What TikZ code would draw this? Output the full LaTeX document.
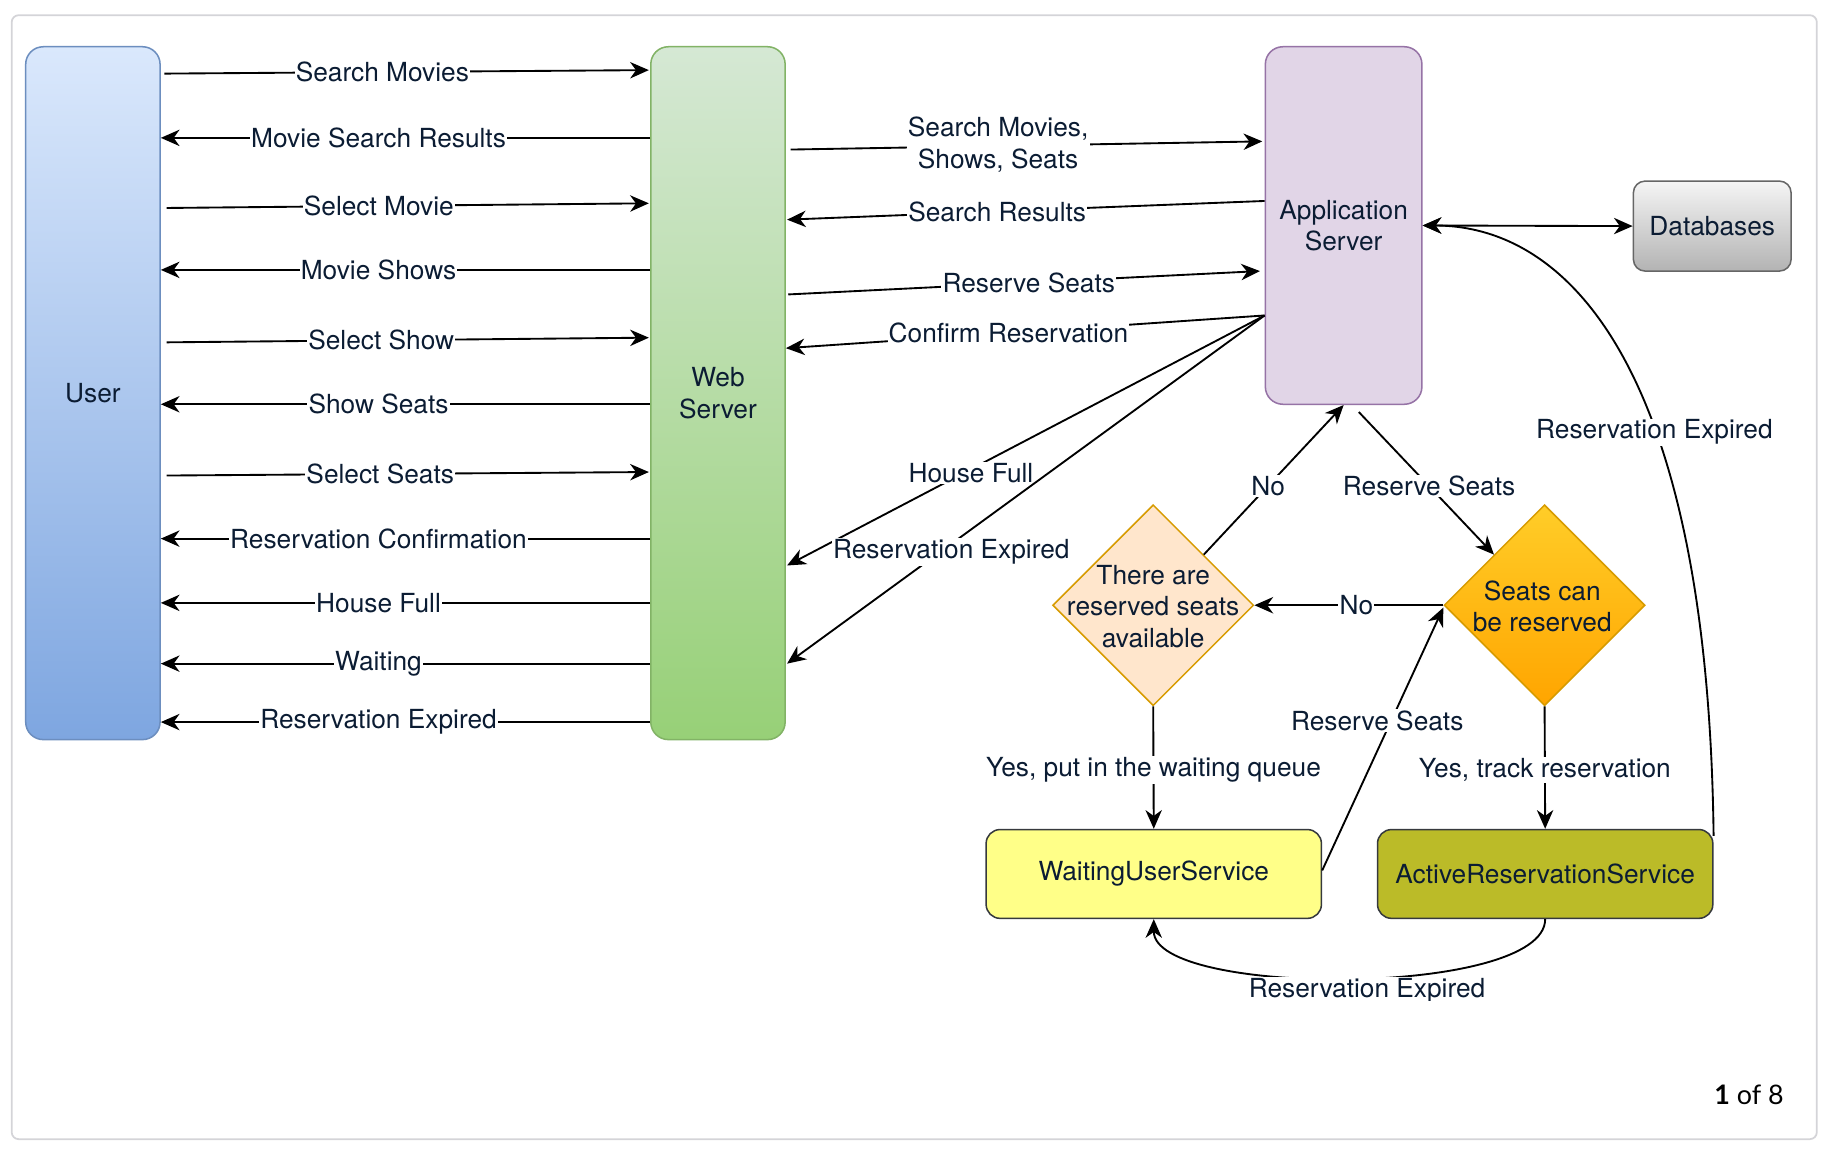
\documentclass[tikz,border=0pt]{standalone}
\usepackage{fontspec}
\setmainfont{TeX Gyre Heros}
\newfontfamily\pagefont{Lato}
\usetikzlibrary{shapes.geometric,arrows.meta,calc}
\definecolor{txt}{HTML}{0B1C33}
\definecolor{utop}{HTML}{DAE8FC}\definecolor{ubot}{HTML}{7EA6E0}\definecolor{ubrd}{HTML}{6C8EBF}
\definecolor{wtop}{HTML}{D5E8D4}\definecolor{wbot}{HTML}{97D077}\definecolor{wbrd}{HTML}{82B366}
\definecolor{afill}{HTML}{E1D5E7}\definecolor{abrd}{HTML}{9673A6}
\definecolor{dtop}{HTML}{F5F5F5}\definecolor{dbot}{HTML}{B3B3B3}\definecolor{dbrd}{HTML}{666666}
\definecolor{onefill}{HTML}{FFE6CC}\definecolor{obrd}{HTML}{D79B00}
\definecolor{twotop}{HTML}{FFCD28}\definecolor{twobot}{HTML}{FFA500}
\definecolor{wusfill}{HTML}{FFFF88}\definecolor{arsfill}{HTML}{BBBB28}\definecolor{sbrd}{HTML}{36393D}
\definecolor{frame}{HTML}{D4D4D8}
\begin{document}
\begin{tikzpicture}[x=1pt,y=-1pt,
  every node/.style={text=txt, font=\fontsize{22.5}{27}\selectfont},
  box/.style={draw, rounded corners=15pt, line width=1.3pt, align=center, inner sep=0pt},
  dia/.style={draw, diamond, aspect=1, line width=1.3pt, inner sep=0pt, minimum width=172pt, minimum height=172pt},
  tip/.style={Stealth[length=16pt,width=14pt,inset=5pt]},
  arr/.style={draw=black, line width=1.6pt, -{Stealth[length=16pt,width=14pt,inset=5pt]}},
  biarr/.style={draw=black, line width=1.6pt, {Stealth[length=16pt,width=14pt,inset=5pt]}-{Stealth[length=16pt,width=14pt,inset=5pt]}},
  lbl/.style={fill=white, inner sep=1pt, align=center},
]
\useasboundingbox (0,0) rectangle (1568,986);
\draw[rounded corners=6pt, draw=frame, line width=1.5pt, fill=white] (10,13) rectangle (1555,975);

% nodes
\node[box, draw=ubrd, top color=utop, bottom color=ubot, minimum width=115pt, minimum height=593pt] (user) at (79.5,336.5) {User};
\node[box, draw=wbrd, top color=wtop, bottom color=wbot, minimum width=115pt, minimum height=593pt] (web) at (614.5,336.5) {Web\\Server};
\node[box, draw=abrd, fill=afill, minimum width=134pt, minimum height=306pt] (app) at (1150,193) {Application\\Server};
\node[box, draw=dbrd, top color=dtop, bottom color=dbot, rounded corners=10pt, minimum width=135pt, minimum height=77pt] (db) at (1465.5,193.5) {Databases};
\node[dia, draw=obrd, fill=onefill] (d1) at (987,518) {};
\node[align=center] (d1t) at (987,519) {There are\\reserved seats\\available};
\node[dia, draw=obrd, top color=twotop, bottom color=twobot] (d2) at (1322,518) {};
\node[align=center] (d2t) at (1320,519) {Seats can\\be reserved};
\node[box, draw=sbrd, fill=wusfill, rounded corners=12pt, minimum width=287pt, minimum height=76pt] (wus) at (987.5,748) {WaitingUserService};
\node[box, draw=sbrd, fill=arsfill, rounded corners=12pt, minimum width=287pt, minimum height=76pt] (ars) at (1322.5,748) {ActiveReservationService};
\node[font=\pagefont\fontsize{23}{27}\selectfont, text=black] (page) at (1497,937) {\textbf{1} of 8};

% user <-> web
\draw[arr] ($(user.east |- 0,63)+(3,0)$) -- node[lbl,pos=0.45]{Search Movies} ($(web.west |- 0,60)+(-1,0)$);
\draw[arr] (web.west |- 0,118) -- node[lbl,pos=0.555]{Movie Search Results} (user.east |- 0,118);
\draw[arr] ($(user.east |- 0,178)+(5,0)$) -- node[lbl,pos=0.44]{Select Movie} ($(web.west |- 0,174)+(-1,0)$);
\draw[arr] (web.west |- 0,231) -- node[lbl,pos=0.555]{Movie Shows} (user.east |- 0,231);
\draw[arr] ($(user.east |- 0,293)+(5,0)$) -- node[lbl,pos=0.445]{Select Show} ($(web.west |- 0,289)+(-1,0)$);
\draw[arr] (web.west |- 0,346) -- node[lbl,pos=0.555]{Show Seats} (user.east |- 0,346);
\draw[arr] ($(user.east |- 0,407)+(5,0)$) -- node[lbl,pos=0.443]{Select Seats} ($(web.west |- 0,404)+(-1,0)$);
\draw[arr] (web.west |- 0,461) -- node[lbl,pos=0.555]{Reservation Confirmation} (user.east |- 0,461);
\draw[arr] (web.west |- 0,516) -- node[lbl,pos=0.555]{House Full} (user.east |- 0,516);
\draw[arr] (web.west |- 0,568) -- node[lbl,pos=0.555]{Waiting} (user.east |- 0,568);
\draw[arr] (web.west |- 0,618) -- node[lbl,pos=0.555]{Reservation Expired} (user.east |- 0,618);

% web <-> app
\draw[arr] ($(web.east |- 0,128)+(4,0)$) -- node[lbl,pos=0.44,yshift=1pt]{Search Movies,\\Shows, Seats} ($(app.west |- 0,121)+(-2,0)$);
\draw[arr] (app.west |- 0,172) -- node[lbl,pos=0.56]{Search Results} ($(web.east |- 0,188)+(1,0)$);
\draw[arr] ($(web.east |- 0,252)+(2,0)$) -- node[lbl,pos=0.51]{Reserve Seats} ($(app.west |- 0,232)+(-4,0)$);
\draw[arr] (app.west |- 0,270) -- node[lbl,pos=0.535]{Confirm Reservation} (web.east |- 0,298);
\draw[arr] (app.west |- 0,270) -- node[lbl,pos=0.615,yshift=-3pt]{House Full} ($(web.east |- 0,484)+(1,0)$);
\draw[arr] (app.west |- 0,270) -- node[lbl,pos=0.656,yshift=-7pt]{Reservation Expired} ($(web.east |- 0,568)+(1,0)$);

% app <-> db
\draw[biarr] (app.east) -- (db.west);
\draw[arr] ([yshift=-6pt]ars.north east) .. controls (1462,320) and (1345,193) .. node[lbl,pos=0.39,yshift=-3pt]{Reservation Expired} (app.east);

% decision flow
\draw[arr] ($(app.south)+(13,6)$) -- node[lbl,pos=0.52]{Reserve Seats} (d2.north west);
\draw[arr] (d1.north east) -- node[lbl,pos=0.46]{No} (app.south);
\draw[arr] (d2.west) -- node[lbl,pos=0.46]{No} (d1.east);
\draw[arr] (d1.south) -- node[lbl,pos=0.52]{Yes, put in the waiting queue} (wus.north);
\draw[arr] (d2.south) -- node[lbl,pos=0.52]{Yes, track reservation} (ars.north);
\draw[arr] ($(wus.east)+(0,-3)$) -- node[lbl,pos=0.57,xshift=-12pt]{Reserve Seats} ($(d2.west)+(0,2)$);
\begin{scope}
\clip (0,0) rectangle (1568,856);
\draw[arr] (ars.south) .. controls +(0,67) and +(0,67) .. node[lbl,pos=0.47,yshift=-11pt]{Reservation Expired} (wus.south);
\end{scope}
\end{tikzpicture}
\end{document}
